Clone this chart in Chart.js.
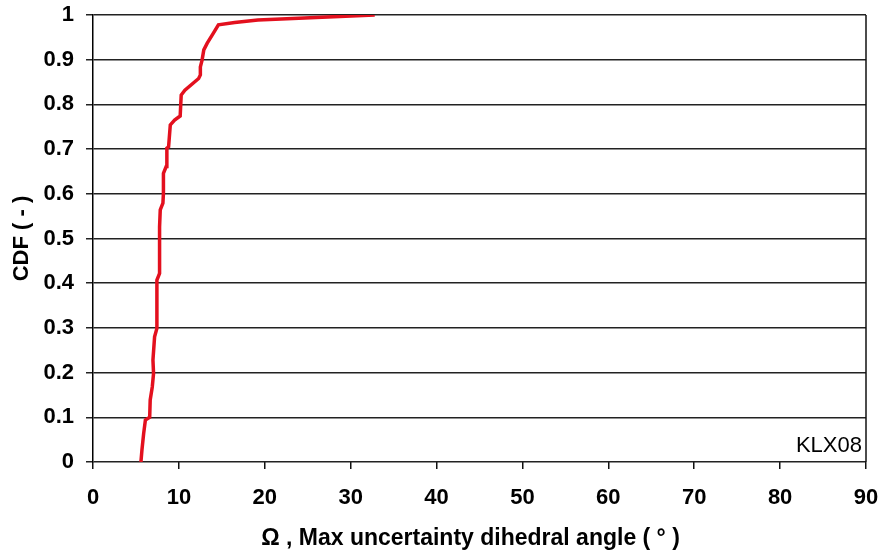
<!DOCTYPE html>
<html>
<head>
<meta charset="utf-8">
<script src="https://cdn.jsdelivr.net/npm/chart.js@4/dist/chart.umd.min.js"></script>
<style>
  html, body { margin: 0; padding: 0; background: #fff; overflow: hidden; }
  canvas { display: block; }
</style>
</head>
<body>
<canvas id="cdfChart" width="881" height="555"></canvas>
<script>
// Omega values (degrees) and cumulative frequency along the KLX08 curve
const omegaValues = [5.58, 5.7, 5.9, 6.1, 6.6, 6.66, 6.9, 7.05, 6.98, 7.17, 7.44, 7.44, 7.44,
    7.75, 7.75, 7.83, 8.14, 8.2, 8.2, 8.52, 8.6, 8.6, 8.8, 9.0, 9.5, 10.15, 10.27, 10.7,
    12.3, 12.5, 12.5, 12.7, 12.9, 13.3, 14.0, 14.6, 16.5, 19.2, 32.8];
const cdfValues = [0.0, 0.027, 0.064, 0.094, 0.10, 0.139, 0.168, 0.198, 0.228, 0.28, 0.299, 0.362, 0.407,
    0.422, 0.526, 0.564, 0.579, 0.601, 0.646, 0.661, 0.676, 0.702, 0.705, 0.754, 0.765, 0.774, 0.821, 0.832,
    0.858, 0.866, 0.884, 0.899, 0.922, 0.937, 0.959, 0.978, 0.983, 0.989, 1.0];

const xTicks = [0, 10, 20, 30, 40, 50, 60, 70, 80, 90];
const yTicks = [0, 0.1, 0.2, 0.3, 0.4, 0.5, 0.6, 0.7, 0.8, 0.9, 1];
const boreholeLabel = 'KLX08';
const xTitle = 'Ω , Max uncertainty dihedral angle ( ° )';

const points = omegaValues.map((x, i) => ({ x: x, y: cdfValues[i] }));
const fontFamily = '"Liberation Sans", Arial, sans-serif';

// right frame line, borehole name and the x axis title (sits a bit left of the plot centre)
const framePlugin = {
    id: 'frame',
    afterDraw(chart) {
        const { ctx, chartArea } = chart;
        ctx.save();
        ctx.strokeStyle = '#111';
        ctx.lineWidth = 1.5;
        ctx.beginPath();
        ctx.moveTo(chartArea.right, chartArea.top);
        ctx.lineTo(chartArea.right, chartArea.bottom);
        ctx.stroke();
        ctx.fillStyle = '#000';
        ctx.font = '22px ' + fontFamily;
        ctx.textAlign = 'right';
        ctx.textBaseline = 'alphabetic';
        ctx.fillText(boreholeLabel, chartArea.right - 4, chartArea.bottom - 10);

        ctx.font = 'bold 23px ' + fontFamily;
        ctx.textAlign = 'center';
        ctx.fillText(xTitle, (chartArea.left + chartArea.right) / 2 - 9, chartArea.bottom + 83);
        ctx.restore();
    }
};

new Chart(document.getElementById('cdfChart'), {
    type: 'scatter',
    data: {
        datasets: [{
            data: points,
            showLine: true,
            borderColor: '#e3101e',
            borderWidth: 3.5,
            pointRadius: 0,
            tension: 0
        }]
    },
    options: {
        responsive: false,
        animation: false,
        layout: { padding: { top: 15, right: 15, left: 0, bottom: 0 } },
        plugins: {
            legend: { display: false },
            tooltip: { enabled: false }
        },
        scales: {
            x: {
                type: 'linear',
                min: 0,
                max: 90,
                afterBuildTicks: axis => { axis.ticks = xTicks.map(v => ({ value: v })); },
                afterFit: axis => {
                    axis.height = 93;
                    axis.paddingLeft = 0;
                    axis.paddingRight = 0;
                },
                grid: {
                    drawOnChartArea: false,
                    drawTicks: true,
                    tickLength: 7,
                    color: '#111',
                    lineWidth: 1.5
                },
                border: { display: false },
                ticks: {
                    color: '#000',
                    padding: 16,
                    maxRotation: 0,
                    font: { family: fontFamily, size: 22, weight: 'bold' }
                },
                title: { display: false }
            },
            y: {
                type: 'linear',
                min: 0,
                max: 1,
                afterBuildTicks: axis => { axis.ticks = yTicks.map(v => ({ value: v })); },
                afterFit: axis => {
                    axis.width = 93;
                    axis.paddingTop = 0;
                    axis.paddingBottom = 0;
                },
                grid: {
                    drawOnChartArea: true,
                    drawTicks: true,
                    tickLength: 7,
                    color: '#222',
                    lineWidth: 1.5
                },
                border: { display: true, color: '#000', width: 1.5 },
                ticks: {
                    color: '#000',
                    padding: 12,
                    font: { family: fontFamily, size: 22, weight: 'bold' },
                    callback: v => String(v)
                },
                title: {
                    display: true,
                    text: 'CDF ( - )',
                    color: '#000',
                    padding: { top: 9, bottom: 0 },
                    font: { family: fontFamily, size: 22, weight: 'bold' }
                }
            }
        }
    },
    plugins: [framePlugin]
});
</script>
</body>
</html>
